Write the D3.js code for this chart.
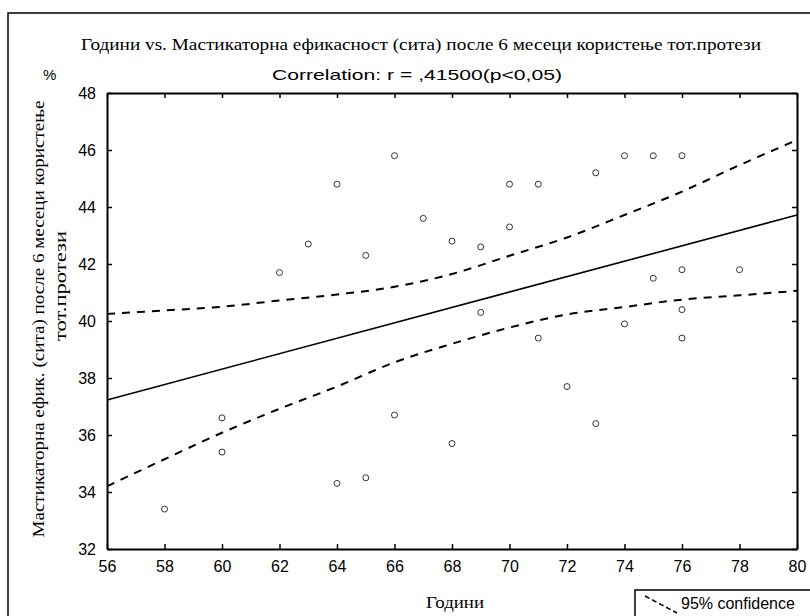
<!DOCTYPE html>
<html>
<head>
<meta charset="utf-8">
<script src="https://cdn.jsdelivr.net/npm/d3@7"></script>
<style>
  body { margin: 0; background: #fff; }
  svg { display: block; }
  .tick text { font: 16px 'Liberation Sans', Arial, sans-serif; fill: #000; }
  .serif { font-family: 'Liberation Serif', 'Times New Roman', serif; }
  .sans { font-family: 'Liberation Sans', Arial, sans-serif; }
</style>
</head>
<body>
<svg width="810" height="616"></svg>
<script>
// scatter data
const ages = [58, 60, 60, 62, 63, 64, 64, 65, 65, 66, 66, 67, 68, 68, 69, 69,
  70, 70, 71, 71, 72, 73, 73, 74, 74, 75, 75, 76, 76, 76, 76, 78];
const efficacy = [33.4, 36.6, 35.4, 41.7, 42.7, 44.8, 34.3, 42.3, 34.5, 45.8, 36.7, 43.6, 42.8, 35.7, 42.6, 40.3,
  44.8, 43.3, 44.8, 39.4, 37.7, 45.2, 36.4, 45.8, 39.9, 45.8, 41.5, 45.8, 41.8, 40.4, 39.4, 41.8];

// fitted line and 95% band
const fitX = [56, 80];
const fitY = [37.23, 43.72];
const bandX = [56, 58, 60, 62, 64, 66, 68, 70, 72, 74, 76, 78, 80];
const upperY = [40.25, 40.37, 40.5, 40.72, 40.93, 41.2, 41.65, 42.29, 42.93, 43.72, 44.54, 45.47, 46.35];
const lowerY = [34.2, 35.15, 36.08, 36.92, 37.7, 38.55, 39.2, 39.77, 40.23, 40.49, 40.75, 40.9, 41.06];

const xTicks = [56, 58, 60, 62, 64, 66, 68, 70, 72, 74, 76, 78, 80];
const yTicks = [32, 34, 36, 38, 40, 42, 44, 46, 48];

const PLOT = { left: 107, right: 797, top: 93, bottom: 549 };

const svg = d3.select('svg');

const x = d3.scaleLinear().domain([56, 80]).range([PLOT.left, PLOT.right]);
const y = d3.scaleLinear().domain([32, 48]).range([PLOT.bottom, PLOT.top]);

// outer page frame
svg.append('path')
  .attr('d', `M8,616 V13 H810`)
  .attr('fill', 'none')
  .attr('stroke', '#000')
  .attr('stroke-width', 1.5);

// axes with inward ticks on every side
const axBottom = svg.append('g')
  .attr('transform', `translate(0, ${PLOT.bottom})`)
  .call(d3.axisBottom(x).tickValues(xTicks).tickSizeInner(-5).tickSizeOuter(0).tickPadding(12));
const axTop = svg.append('g')
  .attr('transform', `translate(0, ${PLOT.top})`)
  .call(d3.axisTop(x).tickValues(xTicks).tickSizeInner(-5).tickSizeOuter(0).tickFormat(''));
const axLeft = svg.append('g')
  .attr('transform', `translate(${PLOT.left}, 0)`)
  .call(d3.axisLeft(y).tickValues(yTicks).tickSizeInner(-5).tickSizeOuter(0).tickPadding(11));
const axRight = svg.append('g')
  .attr('transform', `translate(${PLOT.right}, 0)`)
  .call(d3.axisRight(y).tickValues(yTicks).tickSizeInner(-5).tickSizeOuter(0).tickFormat(''));

[axBottom, axTop, axLeft, axRight].forEach((g) => {
  g.select('.domain').attr('stroke', '#000').attr('stroke-width', 2);
  g.selectAll('.tick line').attr('stroke', '#000').attr('stroke-width', 1.5);
});

// confidence band
const line = d3.line()
  .x((d) => x(d[0]))
  .y((d) => y(d[1]))
  .curve(d3.curveMonotoneX);

[upperY, lowerY].forEach((vals) => {
  svg.append('path')
    .datum(bandX.map((v, i) => [v, vals[i]]))
    .attr('d', line)
    .attr('fill', 'none')
    .attr('stroke', '#000')
    .attr('stroke-width', 2)
    .attr('stroke-dasharray', '8,7');
});

// regression line
svg.append('path')
  .datum(fitX.map((v, i) => [v, fitY[i]]))
  .attr('d', line)
  .attr('fill', 'none')
  .attr('stroke', '#000')
  .attr('stroke-width', 1.6);

// points
svg.append('g')
  .selectAll('circle')
  .data(ages.map((a, i) => ({ age: a, val: efficacy[i] })))
  .join('circle')
  .attr('cx', (d) => x(d.age))
  .attr('cy', (d) => y(d.val))
  .attr('r', 3)
  .attr('fill', 'none')
  .attr('stroke', '#333')
  .attr('stroke-width', 1);

// titles
svg.append('text')
  .attr('class', 'serif')
  .attr('x', 421).attr('y', 50)
  .attr('text-anchor', 'middle')
  .attr('textLength', 680)
  .attr('lengthAdjust', 'spacingAndGlyphs')
  .style('font-size', '17px')
  .text('Години vs. Мастикаторна ефикасност (сита) после 6 месеци користење тот.протези');

svg.append('text')
  .attr('class', 'sans')
  .attr('x', 417).attr('y', 80)
  .attr('text-anchor', 'middle')
  .attr('textLength', 290)
  .attr('lengthAdjust', 'spacingAndGlyphs')
  .style('font-size', '15px')
  .text('Correlation: r = ,41500(p<0,05)');

svg.append('text')
  .attr('class', 'sans')
  .attr('x', 43).attr('y', 80)
  .style('font-size', '15px')
  .text('%');

// axis labels
svg.append('text')
  .attr('class', 'serif')
  .attr('x', 455).attr('y', 608)
  .attr('text-anchor', 'middle')
  .attr('textLength', 58)
  .attr('lengthAdjust', 'spacingAndGlyphs')
  .style('font-size', '17px')
  .text('Години');

svg.append('text')
  .attr('class', 'serif')
  .attr('transform', 'translate(44, 319) rotate(-90)')
  .attr('text-anchor', 'middle')
  .attr('textLength', 437)
  .attr('lengthAdjust', 'spacingAndGlyphs')
  .style('font-size', '17px')
  .text('Мастикаторна ефик. (сита) после 6 месеци користење');

svg.append('text')
  .attr('class', 'serif')
  .attr('transform', 'translate(66, 286) rotate(-90)')
  .attr('text-anchor', 'middle')
  .attr('textLength', 110)
  .attr('lengthAdjust', 'spacingAndGlyphs')
  .style('font-size', '17px')
  .text('тот.протези');

// legend
const legend = svg.append('g').attr('transform', 'translate(635, 590)');
legend.append('path')
  .attr('d', 'M0,30 V0 H180')
  .attr('fill', 'none')
  .attr('stroke', '#000')
  .attr('stroke-width', 1.5);
legend.append('line')
  .attr('x1', 10).attr('y1', 6)
  .attr('x2', 42).attr('y2', 23)
  .attr('stroke', '#000')
  .attr('stroke-width', 1.5)
  .attr('stroke-dasharray', '5,3');
legend.append('text')
  .attr('class', 'sans')
  .attr('x', 46).attr('y', 19)
  .style('font-size', '16px')
  .text('95% confidence');
</script>
</body>
</html>
